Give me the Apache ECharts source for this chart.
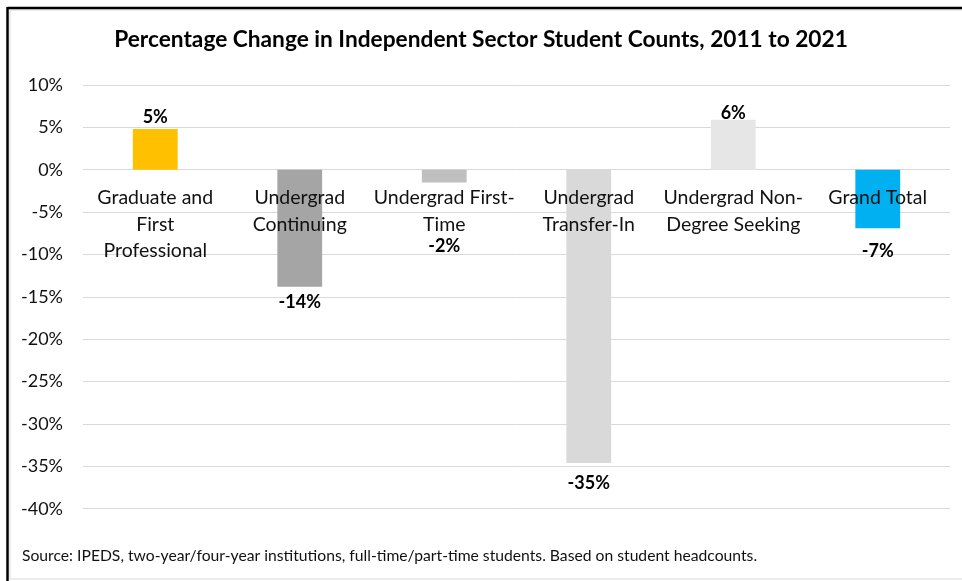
<!DOCTYPE html>
<html>
<head>
<meta charset="utf-8">
<script src="https://cdn.jsdelivr.net/npm/echarts@6/dist/echarts.min.js"></script>
<style>
  html, body { margin: 0; padding: 0; background: #fff; }
  #chart { width: 962px; height: 581px; }
</style>
</head>
<body>
<div id="chart"></div>
<script>
// Student groups (line breaks follow the wrapped axis labels)
const categories = [
  'Graduate and\nFirst\nProfessional',
  'Undergrad\nContinuing',
  'Undergrad First-\nTime',
  'Undergrad\nTransfer-In',
  'Undergrad Non-\nDegree Seeking',
  'Grand Total'
];
// Percentage change 2011 -> 2021
const changes = [4.8, -13.8, -1.5, -34.6, 5.9, -6.9];
const barColors = ['#FFC000', '#A5A5A5', '#BFBFBF', '#D9D9D9', '#E7E6E6', '#00B0F0'];
// Gap between each bar end and its value label
const labelGaps = [2, 6, 54, 10, -3, 13];

const yTicks = { min: -40, max: 10, step: 5 };

const FONT = 'Lato';
const W = 962, H = 581;
const gridBox = { left: 83, right: 12, top: 85, bottom: 72.3 };

// Category labels sit just below the 0% line rather than at the plot bottom
const plotH = H - gridBox.top - gridBox.bottom;
const zeroY = gridBox.top + plotH * (yTicks.max - 0) / (yTicks.max - yTicks.min);
const bottomY = H - gridBox.bottom;
const catLabelMargin = (zeroY + 15) - bottomY;

// Whole-percent labels, rounding halves away from zero
function pct(v) {
  const r = Math.sign(v) * Math.round(Math.abs(v));
  return r + '%';
}

const chart = echarts.init(document.getElementById('chart'), null, { renderer: 'canvas' });

chart.setOption({
  animation: false,
  backgroundColor: '#fff',
  textStyle: { fontFamily: FONT },
  title: {
    text: 'Percentage Change in Independent Sector Student Counts, 2011 to 2021',
    left: 'center',
    top: 23,
    textStyle: { fontFamily: FONT, fontSize: 22.7, fontWeight: 'bold', color: '#000' }
  },
  grid: Object.assign({ containLabel: false, outerBoundsMode: 'none' }, gridBox),
  xAxis: {
    type: 'category',
    data: categories,
    z: 5,
    axisLine: { show: false, onZero: false },
    axisTick: { show: false },
    axisLabel: {
      interval: 0,
      margin: catLabelMargin,
      fontFamily: FONT,
      fontSize: 19.5,
      lineHeight: 26.5,
      verticalAlign: 'top',
      color: '#111'
    },
    splitLine: { show: false }
  },
  yAxis: {
    type: 'value',
    min: yTicks.min,
    max: yTicks.max,
    interval: yTicks.step,
    axisLine: { show: false },
    axisTick: { show: false },
    axisLabel: {
      formatter: v => v + '%',
      margin: 20,
      fontFamily: FONT,
      fontSize: 18,
      color: '#111'
    },
    splitLine: { lineStyle: { color: '#D9D9D9', width: 1 } }
  },
  series: [{
    type: 'bar',
    barWidth: '31%',
    z: 2,
    data: changes.map((v, i) => ({
      value: v,
      itemStyle: { color: barColors[i] },
      label: {
        show: true,
        position: v >= 0 ? 'top' : 'bottom',
        distance: labelGaps[i],
        formatter: p => pct(p.value),
        fontFamily: FONT,
        fontSize: 18,
        fontWeight: 'bold',
        lineHeight: 20,
        color: '#000'
      }
    }))
  }],
  graphic: [
    {
      type: 'text',
      left: 22,
      top: 548,
      style: {
        text: 'Source: IPEDS, two-year/four-year institutions, full-time/part-time students. Based on student headcounts.',
        font: '15.7px ' + FONT,
        fill: '#111'
      }
    },
    // frame lines
    { type: 'rect', shape: { x: 10, y: 10, width: 960, height: 569 }, style: { fill: 'none', stroke: '#E6E6E6', lineWidth: 1.5 }, silent: true },
    { type: 'line', shape: { x1: 7.5, y1: 8, x2: 962, y2: 8 }, style: { stroke: '#000', lineWidth: 2.5 }, silent: true },
    { type: 'line', shape: { x1: 7.5, y1: 7, x2: 7.5, y2: 581 }, style: { stroke: '#000', lineWidth: 2.5 }, silent: true }
  ]
});
</script>
</body>
</html>
